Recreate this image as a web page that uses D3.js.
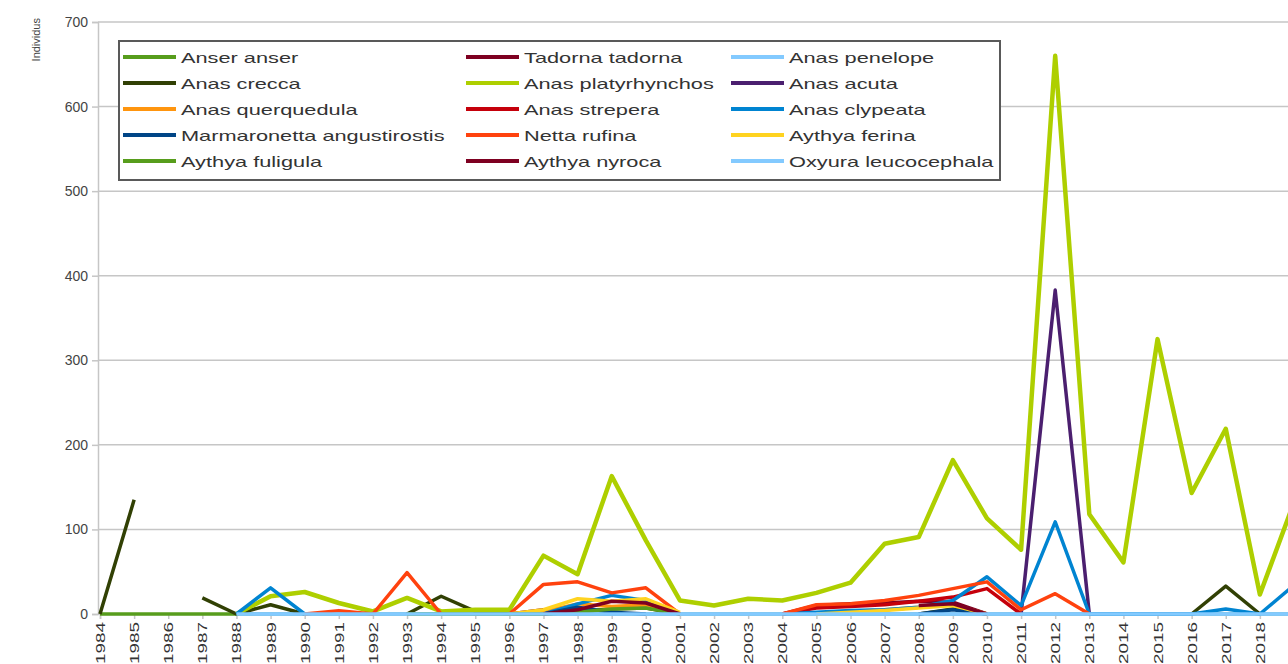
<!DOCTYPE html>
<html>
<head>
<meta charset="utf-8">
<script src="https://cdn.jsdelivr.net/npm/d3@7/dist/d3.min.js"></script>
<style>
  html, body { margin: 0; padding: 0; background: #fff; }
  svg { display: block; font-family: "Liberation Sans", Arial, sans-serif; }
</style>
</head>
<body>
<svg id="chart" width="1288" height="664"></svg>
<script>
const N = null;
const years = ["1984","1985","1986","1987","1988","1989","1990","1991","1992","1993","1994","1995","1996","1997","1998","1999","2000","2001","2002","2003","2004","2005","2006","2007","2008","2009","2010","2011","2012","2013","2014","2015","2016","2017","2018","2019"];
const yTicks = [0, 100, 200, 300, 400, 500, 600, 700];
const yTitle = "Individus";

const seriesNames = ["Anser anser","Tadorna tadorna","Anas penelope","Anas crecca","Anas platyrhynchos","Anas acuta","Anas querquedula","Anas strepera","Anas clypeata","Marmaronetta angustirostis","Netta rufina","Aythya ferina","Aythya fuligula","Aythya nyroca","Oxyura leucocephala"];
const seriesColors = ["#579d1c","#7e0021","#83caff","#314004","#aecf00","#4b1f6f","#ff950e","#c5000b","#0084d1","#004586","#ff420e","#ffd320","#579d1c","#7e0021","#83caff"];

//                    1984 85 86 87 88 89 90 91 92 93 94 95 96 97 98 99 2000 01 02 03 04 05 06 07 08 09 10 11 12 13 14 15 16 17 18 19
const anserAnser        = [0,0,0,0,0,0,0,0,0,0,0,0,0,0,0,0,0,0,0,0,0,0,0,0,0,0,0,0,0,0,0,0,0,0,0,0];
const tadornaTadorna    = [N,N,N,N,N,N,N,N,N,N,N,N,0,5,0,N,N,N,N,N,0,10,12,13,15,14,0,N,N,N,N,N,N,N,N,N];
const anasPenelope      = [N,N,N,N,0,0,0,0,0,0,0,0,0,0,0,0,0,0,0,0,0,0,0,0,0,0,0,0,0,0,0,0,0,0,0,0];
const anasCrecca        = [0,135,N,19,0,11,0,N,N,0,21,3,0,0,3,6,7,0,N,N,N,N,N,N,0,6,0,N,N,N,N,N,0,33,0,N];
const anasPlatyrhynchos = [N,N,N,N,0,21,26,13,3,19,3,5,5,69,47,163,87,16,10,18,16,25,37,83,91,182,113,76,660,118,61,325,143,219,23,132];
const anasAcuta         = [N,N,N,N,N,N,N,N,N,N,N,N,N,N,N,N,N,N,N,N,N,N,N,N,N,N,N,0,383,0,N,N,N,N,N,N];
const anasQuerquedula   = [N,N,N,N,N,N,N,N,N,N,N,N,0,3,12,9,11,0,N,N,N,0,3,5,8,11,0,N,N,N,N,N,N,N,N,N];
const anasStrepera      = [N,N,N,N,N,N,N,N,N,N,N,N,N,N,N,N,N,N,N,N,0,7,9,11,15,20,30,0,N,N,N,N,N,N,N,N];
const anasClypeata      = [N,N,N,N,0,31,0,N,N,N,N,N,N,0,12,22,16,0,N,N,0,2,4,5,8,16,44,10,109,0,0,0,0,6,0,34];
const marmaronetta      = [N,N,N,N,N,N,N,N,N,N,N,N,N,0,8,2,0,N,N,N,N,N,N,N,0,5,0,N,N,N,N,N,N,N,N,N];
const nettaRufina       = [N,N,N,N,N,N,0,4,0,49,0,N,0,35,38,25,31,0,N,N,0,11,12,16,22,30,38,5,24,0,N,N,N,N,N,N];
const aythyaFerina      = [N,N,N,N,N,N,N,N,N,N,N,N,0,5,18,15,18,2,N,N,N,0,2,4,7,10,0,N,N,N,N,N,N,N,N,N];
const aythyaFuligula    = [N,N,N,N,N,N,N,N,N,0,0,0,0,0,2,6,7,0,N,N,N,N,N,N,N,N,N,N,N,N,N,N,N,N,N,N];
const aythyaNyroca      = [N,N,N,N,N,N,N,N,N,N,N,N,N,0,5,15,13,0,N,N,N,N,N,N,10,12,0,N,N,N,N,N,N,N,N,N];
const oxyuraLeucocephala= [N,N,N,N,0,0,0,0,0,0,0,0,0,0,0,0,0,0,0,0,0,0,0,0,0,0,0,0,0,0,0,0,0,0,0,0];

const seriesValues = [anserAnser, tadornaTadorna, anasPenelope, anasCrecca, anasPlatyrhynchos, anasAcuta, anasQuerquedula, anasStrepera, anasClypeata, marmaronetta, nettaRufina, aythyaFerina, aythyaFuligula, aythyaNyroca, oxyuraLeucocephala];

const W = 1288, H = 664;
const svg = d3.select("#chart");
svg.append("rect").attr("width", W).attr("height", H).attr("fill", "#fff");

const x = d3.scalePoint().domain(years).range([100, 1294]).padding(0);
const y = d3.scaleLinear().domain([0, 700]).range([614, 22]);

// grid
svg.append("g").selectAll("line").data(yTicks).join("line")
  .attr("x1", 98).attr("x2", W)
  .attr("y1", d => y(d)).attr("y2", d => y(d))
  .attr("stroke", "#c6c6c6").attr("stroke-width", 1.5);

// y axis
const yAxis = svg.append("g").attr("transform", "translate(98,0)")
  .call(d3.axisLeft(y).tickValues(yTicks).tickSize(6).tickPadding(4));
yAxis.select(".domain").attr("stroke", "#c6c6c6").attr("stroke-width", 1.5);
yAxis.selectAll(".tick line").attr("stroke", "#c6c6c6").attr("stroke-width", 1.5);
yAxis.selectAll("text").attr("font-size", 14).attr("fill", "#444")
  .attr("font-family", "Liberation Sans, Arial, sans-serif");

// x axis
const xAxis = svg.append("g").attr("transform", "translate(0,614)")
  .call(d3.axisBottom(x).tickSize(5).tickPadding(3));
xAxis.select(".domain").attr("stroke", "#c6c6c6").attr("stroke-width", 1.5);
xAxis.selectAll(".tick line").attr("stroke", "#c6c6c6").attr("stroke-width", 1.5);
xAxis.selectAll("text")
  .attr("font-size", 13).attr("fill", "#333")
  .attr("font-family", "Liberation Sans, Arial, sans-serif")
  .attr("text-anchor", "end")
  .attr("dy", null)
  .attr("transform", "translate(0,8) rotate(-90)")
  .attr("x", 0).attr("y", 0)
  .attr("dominant-baseline", "central")
  .attr("textLength", 42)
  .attr("lengthAdjust", "spacingAndGlyphs");

// y title
svg.append("text")
  .attr("transform", "translate(36,18) rotate(-90)")
  .attr("text-anchor", "end")
  .attr("dominant-baseline", "central")
  .attr("font-size", 11).attr("fill", "#444")
  .text(yTitle);

// lines
const line = d3.line()
  .defined(d => d.v !== null)
  .x(d => x(d.year))
  .y(d => y(d.v));

const plot = svg.append("g");
seriesValues.forEach((vals, i) => {
  const pts = years.map((yr, k) => ({ year: yr, v: vals[k] }));
  plot.append("path")
    .datum(pts)
    .attr("fill", "none")
    .attr("stroke", seriesColors[i])
    .attr("stroke-width", i === 4 ? 4.5 : 3.5)
    .attr("stroke-linejoin", "round")
    .attr("d", line);
});

// legend
const legend = svg.append("g");
legend.append("rect")
  .attr("x", 119).attr("y", 41).attr("width", 881).attr("height", 139)
  .attr("fill", "#fff").attr("stroke", "#595959").attr("stroke-width", 2);
const colX = [123, 466, 731];
seriesNames.forEach((name, i) => {
  const col = i % 3, row = Math.floor(i / 3);
  const lx = colX[col], ly = 57 + row * 26;
  legend.append("line")
    .attr("x1", lx).attr("x2", lx + 53)
    .attr("y1", ly).attr("y2", ly)
    .attr("stroke", seriesColors[i]).attr("stroke-width", 4);
  const t = legend.append("text")
    .attr("x", lx + 58).attr("y", ly)
    .attr("dominant-baseline", "central")
    .attr("font-size", 15).attr("fill", "#333")
    .text(name);
  const w = t.node().getComputedTextLength();
  t.attr("textLength", w * 1.45).attr("lengthAdjust", "spacingAndGlyphs");
});
</script>
</body>
</html>
